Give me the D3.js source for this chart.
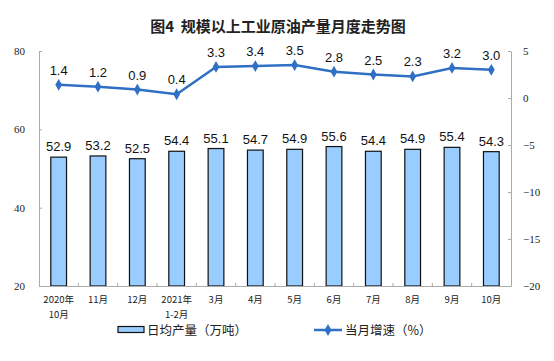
<!DOCTYPE html>
<html><head><meta charset="utf-8">
<script src="https://cdn.jsdelivr.net/npm/d3@7"></script>
<style>body{margin:0;background:#fff}svg{display:block}</style>
</head><body>
<svg id="c" width="554" height="361"></svg>
<script>
const categories = [["2020年","10月"],["11月"],["12月"],["2021年","1-2月"],["3月"],["4月"],["5月"],["6月"],["7月"],["8月"],["9月"],["10月"]];
const output = [52.9,53.2,52.5,54.4,55.1,54.7,54.9,55.6,54.4,54.9,55.4,54.3];
const growth = [1.4,1.2,0.9,0.4,3.3,3.4,3.5,2.8,2.5,2.3,3.2,3.0];
const leftTicks = [20,40,60,80];
const rightTicks = [-20,-15,-10,-5,0,5];
const title = "图4\u00a0\u00a0规模以上工业原油产量月度走势图";
const legendBar = "日均产量（万吨）";
const legendLine = "当月增速（%）";

const svg = d3.select("#c");
const L = 39, R = 511, T = 51, B = 286;
const idx = d3.range(categories.length);
const x = d3.scaleBand().domain(idx).range([L, R]).paddingInner(0.6).paddingOuter(0.3);
const xb = d3.scaleBand().domain(idx).range([L, R]);
const yL = d3.scaleLinear().domain([20, 80]).range([B, T]);
const yR = d3.scaleLinear().domain([-20, 5]).range([B, T]);
const cjk = "'Noto Sans CJK SC', sans-serif";
const serif = "'Liberation Serif','Times New Roman',serif";
const sans = "'Liberation Sans', Arial, sans-serif";

svg.append("text").attr("x", 278).attr("y", 32).attr("text-anchor", "middle")
  .attr("font-family", cjk).attr("font-weight", "bold").attr("font-size", 15).attr("fill", "#222").text(title);

// axes
const axL = svg.append("g").attr("transform", `translate(${L},0)`)
  .call(d3.axisLeft(yL).tickValues(leftTicks).tickSizeInner(-3).tickSizeOuter(0).tickPadding(14));
const axR = svg.append("g").attr("transform", `translate(${R},0)`)
  .call(d3.axisRight(yR).tickValues(rightTicks).tickSizeInner(-3).tickSizeOuter(0).tickPadding(12));
[axL, axR].forEach(a => {
  a.select(".domain").attr("stroke", "#aaa");
  a.selectAll(".tick line").attr("stroke", "#aaa");
  a.selectAll("text").attr("font-family", serif).attr("font-size", 11).attr("fill", "#222");
});

// bars
svg.append("g").selectAll("rect").data(output).join("rect")
  .attr("x", (d, i) => x(i)).attr("width", x.bandwidth())
  .attr("y", d => yL(d)).attr("height", d => yL(20) - yL(d))
  .attr("fill", "#99CCFF").attr("stroke", "#111").attr("stroke-width", 1.2);

// x axis
const axB = svg.append("g").attr("transform", `translate(0,${B})`)
  .call(d3.axisBottom(xb).tickSize(0).tickFormat(""));
axB.select(".domain").attr("stroke", "#aaa");
svg.append("g").selectAll("line").data(d3.range(1, categories.length)).join("line")
  .attr("x1", i => xb(i)).attr("x2", i => xb(i)).attr("y1", B).attr("y2", B - 3)
  .attr("stroke", "#aaa");
const labelRows = [];
categories.forEach((c, i) => c.forEach((t, j) => labelRows.push({i, j, t})));
svg.append("g").selectAll("text").data(labelRows).join("text")
  .attr("text-anchor", "middle").attr("font-family", cjk).attr("font-size", 9.5).attr("fill", "#222")
  .attr("x", d => xb(d.i) + xb.bandwidth() / 2).attr("y", d => B + 17 + d.j * 14.5)
  .text(d => d.t);

// bar labels
svg.append("g").selectAll("text").data(output).join("text")
  .attr("x", (d, i) => x(i) + x.bandwidth() / 2).attr("y", d => yL(d) - 6)
  .attr("text-anchor", "middle").attr("font-family", sans).attr("font-size", 13).attr("fill", "#111")
  .text(d => d.toFixed(1));

// line
const cx = i => xb(i) + xb.bandwidth() / 2;
const blue = "#2F6FC4";
svg.append("path").datum(growth)
  .attr("d", d3.line().x((d, i) => cx(i)).y(d => yR(d)))
  .attr("fill", "none").attr("stroke", blue).attr("stroke-width", 2.5);
const diamond = d3.symbol().type(d3.symbolDiamond).size(40);
svg.append("g").selectAll("path").data(growth).join("path")
  .attr("transform", (d, i) => `translate(${cx(i)},${yR(d)})`).attr("d", diamond).attr("fill", blue);
svg.append("g").selectAll("text").data(growth).join("text")
  .attr("x", (d, i) => cx(i)).attr("y", d => yR(d) - 10)
  .attr("text-anchor", "middle").attr("font-family", sans).attr("font-size", 13).attr("fill", "#111")
  .text(d => d.toFixed(1));

// legend
svg.append("rect").attr("x", 118).attr("y", 326.5).attr("width", 26).attr("height", 6)
  .attr("fill", "#99CCFF").attr("stroke", "#111").attr("stroke-width", 1.2);
svg.append("text").attr("x", 147).attr("y", 334.5).attr("font-family", cjk).attr("font-size", 12.5).attr("fill", "#222").text(legendBar);
svg.append("line").attr("x1", 314).attr("x2", 342).attr("y1", 330).attr("y2", 330).attr("stroke", blue).attr("stroke-width", 2.5);
svg.append("path").attr("transform", "translate(328,330)").attr("d", diamond).attr("fill", blue);
svg.append("text").attr("x", 345).attr("y", 334.5).attr("font-family", cjk).attr("font-size", 12.5).attr("fill", "#222").text(legendLine);
</script>
</body></html>
